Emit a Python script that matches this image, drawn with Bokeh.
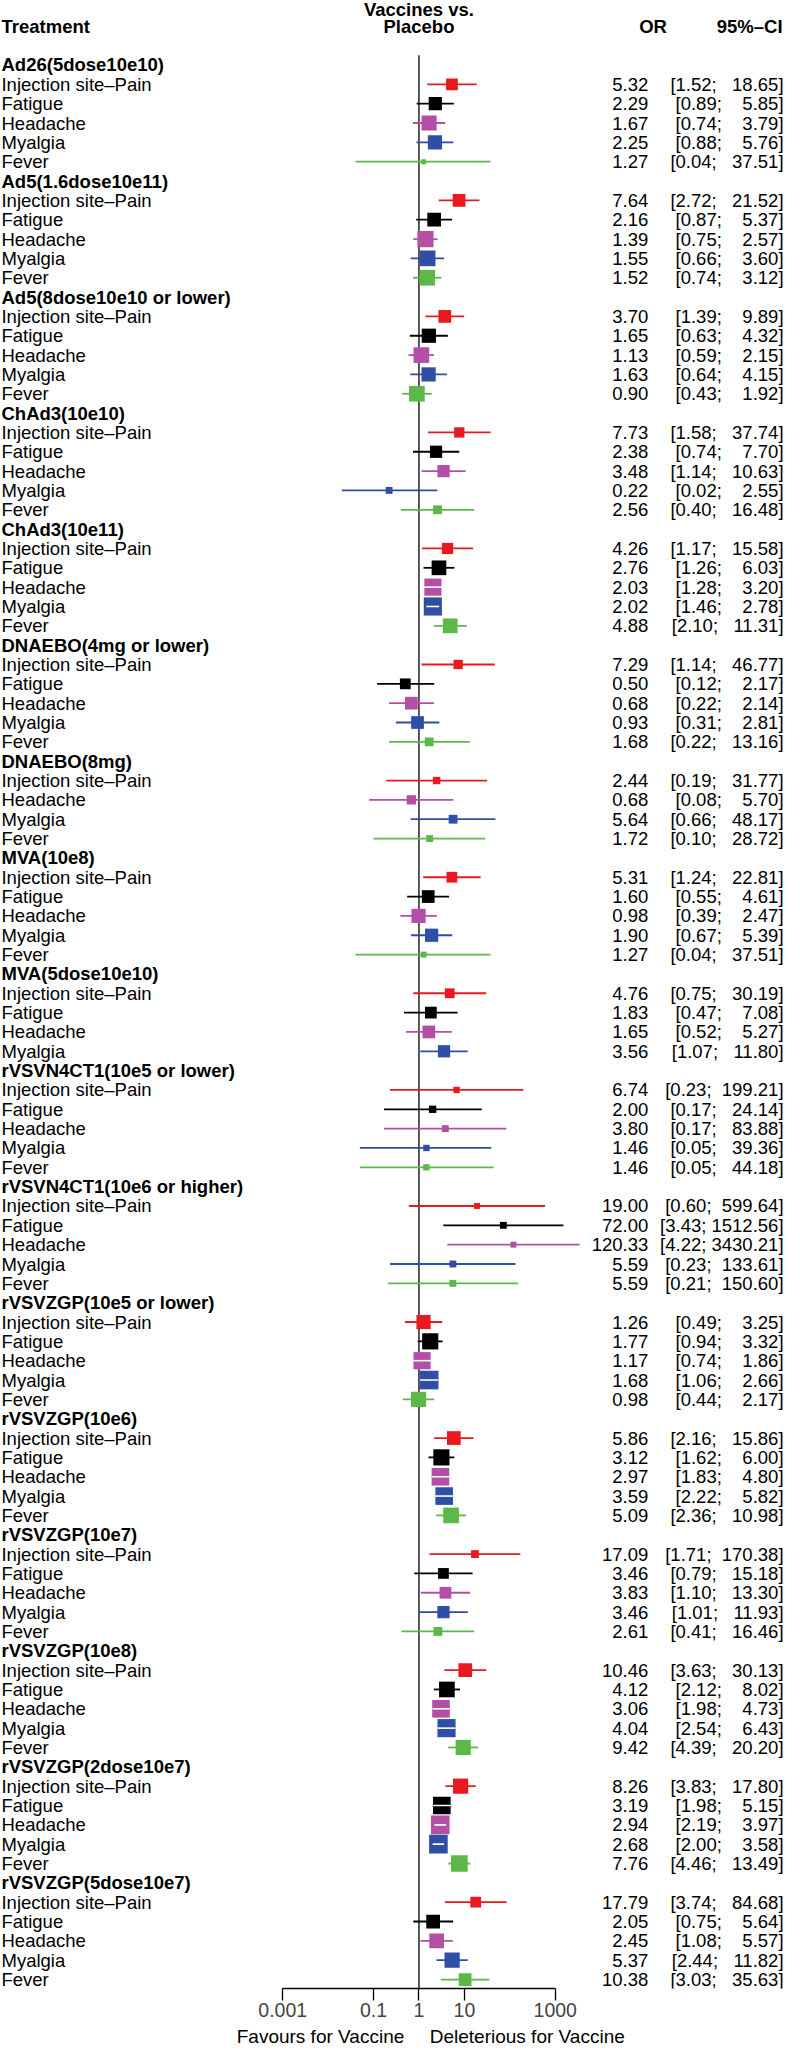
import math
from bokeh.plotting import figure
from bokeh.layouts import column
from bokeh.models import (ColumnDataSource, Range1d, LinearScale, FixedTicker,
                          CustomJSTickFormatter)
from bokeh.core.properties import value
from bokeh.embed import file_html
from bokeh.resources import INLINE

# ---------------- data ----------------
treatments = [
    "Ad26(5dose10e10)", "Ad5(1.6dose10e11)", "Ad5(8dose10e10 or lower)",
    "ChAd3(10e10)", "ChAd3(10e11)", "DNAEBO(4mg or lower)", "DNAEBO(8mg)",
    "MVA(10e8)", "MVA(5dose10e10)", "rVSVN4CT1(10e5 or lower)",
    "rVSVN4CT1(10e6 or higher)", "rVSVZGP(10e5 or lower)", "rVSVZGP(10e6)",
    "rVSVZGP(10e7)", "rVSVZGP(10e8)", "rVSVZGP(2dose10e7)", "rVSVZGP(5dose10e7)",
]
PAIN = "Injection site\u2013Pain"
ALL5 = [PAIN, "Fatigue", "Headache", "Myalgia", "Fever"]
outcomes_by_treatment = (
    [ALL5] * 6
    + [[PAIN, "Headache", "Myalgia", "Fever"], ALL5, [PAIN, "Fatigue", "Headache", "Myalgia"]]
    + [ALL5] * 8
)

or_est = [
    5.32, 2.29, 1.67, 2.25, 1.27,
    7.64, 2.16, 1.39, 1.55, 1.52,
    3.70, 1.65, 1.13, 1.63, 0.90,
    7.73, 2.38, 3.48, 0.22, 2.56,
    4.26, 2.76, 2.03, 2.02, 4.88,
    7.29, 0.50, 0.68, 0.93, 1.68,
    2.44, 0.68, 5.64, 1.72,
    5.31, 1.60, 0.98, 1.90, 1.27,
    4.76, 1.83, 1.65, 3.56,
    6.74, 2.00, 3.80, 1.46, 1.46,
    19.00, 72.00, 120.33, 5.59, 5.59,
    1.26, 1.77, 1.17, 1.68, 0.98,
    5.86, 3.12, 2.97, 3.59, 5.09,
    17.09, 3.46, 3.83, 3.46, 2.61,
    10.46, 4.12, 3.06, 4.04, 9.42,
    8.26, 3.19, 2.94, 2.68, 7.76,
    17.79, 2.05, 2.45, 5.37, 10.38,
]
ci_low = [
    1.52, 0.89, 0.74, 0.88, 0.04,
    2.72, 0.87, 0.75, 0.66, 0.74,
    1.39, 0.63, 0.59, 0.64, 0.43,
    1.58, 0.74, 1.14, 0.02, 0.40,
    1.17, 1.26, 1.28, 1.46, 2.10,
    1.14, 0.12, 0.22, 0.31, 0.22,
    0.19, 0.08, 0.66, 0.10,
    1.24, 0.55, 0.39, 0.67, 0.04,
    0.75, 0.47, 0.52, 1.07,
    0.23, 0.17, 0.17, 0.05, 0.05,
    0.60, 3.43, 4.22, 0.23, 0.21,
    0.49, 0.94, 0.74, 1.06, 0.44,
    2.16, 1.62, 1.83, 2.22, 2.36,
    1.71, 0.79, 1.10, 1.01, 0.41,
    3.63, 2.12, 1.98, 2.54, 4.39,
    3.83, 1.98, 2.19, 2.00, 4.46,
    3.74, 0.75, 1.08, 2.44, 3.03,
]
ci_high = [
    18.65, 5.85, 3.79, 5.76, 37.51,
    21.52, 5.37, 2.57, 3.60, 3.12,
    9.89, 4.32, 2.15, 4.15, 1.92,
    37.74, 7.70, 10.63, 2.55, 16.48,
    15.58, 6.03, 3.20, 2.78, 11.31,
    46.77, 2.17, 2.14, 2.81, 13.16,
    31.77, 5.70, 48.17, 28.72,
    22.81, 4.61, 2.47, 5.39, 37.51,
    30.19, 7.08, 5.27, 11.80,
    199.21, 24.14, 83.88, 39.36, 44.18,
    599.64, 1512.56, 3430.21, 133.61, 150.60,
    3.25, 3.32, 1.86, 2.66, 2.17,
    15.86, 6.00, 4.80, 5.82, 10.98,
    170.38, 15.18, 13.30, 11.93, 16.46,
    30.13, 8.02, 4.73, 6.43, 20.20,
    17.80, 5.15, 3.97, 3.58, 13.49,
    84.68, 5.64, 5.57, 11.82, 35.63,
]
# relative weight, shown as the side of each square
box_weight = [
    12, 13.5, 15.5, 14.5, 5,
    13, 14, 16.5, 16, 16,
    13, 14.5, 16, 14.5, 16,
    10.5, 12.5, 12.5, 7, 9,
    11.5, 15, 17.5, 18.5, 15,
    9.5, 11, 13, 13, 9,
    7.5, 9.5, 9, 7,
    11, 13, 14.5, 13.5, 6,
    10, 12, 13, 12.5,
    6.5, 7.5, 7, 6.5, 6.5,
    6, 7, 6, 7, 7,
    14.5, 16.5, 17.5, 19, 15.5,
    14, 16.5, 18, 18, 16,
    8, 11, 12, 12.5, 9,
    14, 16, 18, 18.5, 15.5,
    15.5, 18, 19, 19, 17,
    11, 14, 15, 15.5, 13,
]
tick_values = [0.001, 0.1, 1, 10, 1000]
tick_labels = ["0.001", "0.1", "1", "10", "1000"]
x_side_labels = ["Favours for Vaccine", "Deleterious for Vaccine"]

colours = {PAIN: "#E8191F", "Fatigue": "#000000", "Headache": "#B44FA6",
           "Myalgia": "#2F4EA6", "Fever": "#5DB84A"}

# ---------------- layout (reference pixel space) ----------------
REF_W, REF_H = 800, 2063
PAGE_W, PAGE_H = 784, 2047
SX, SY = PAGE_W / REF_W, PAGE_H / REF_H
X_ONE = 427.0        # x of OR = 1
DEC = 46.35          # px per decade
ROW0, ROW_H = 65.0, 19.49
MAIN_H = 2025
BORDER_B = 37
CAP_H = PAGE_H - MAIN_H
FONT = "Liberation Sans"
FS = "18.5px"
FS_AX = "19.5px"
NB = "\u00a0"

frame_ref_h = (MAIN_H - BORDER_B) / SY
y_bottom = (frame_ref_h - ROW0) / ROW_H
y_top = (0 - ROW0) / ROW_H

def px(v):
    return DEC * math.log10(v)

def yrow(y_ref):
    return (y_ref - ROW0) / ROW_H

hdr = dict(x=[], y=[], t=[])
lab = dict(x=[], y=[], t=[])
it = dict(y=[], est=[], lo=[], hi=[], col=[], size=[], or_t=[], ci_t=[], or_x=[], ci_x=[])
wh = dict(y=[], lo=[], hi=[])

row = 0
k = 0
for t, outs in zip(treatments, outcomes_by_treatment):
    hdr["x"].append(1); hdr["y"].append(row); hdr["t"].append(t)
    row += 1
    for o in outs:
        e, lo, hi, w = or_est[k], ci_low[k], ci_high[k], box_weight[k]
        lab["x"].append(1); lab["y"].append(row); lab["t"].append(o)
        hs = f"{hi:.2f}"
        it["y"].append(row); it["est"].append(e); it["lo"].append(lo); it["hi"].append(hi)
        it["col"].append(colours[o]); it["size"].append(w * SX)
        it["or_t"].append(f"{e:.2f}"); it["or_x"].append(661)
        it["ci_t"].append(f"[{lo:.2f};" + NB * (1 + 7 - len(hs)) + hs + "]")
        it["ci_x"].append(799)
        half = w / 2.0
        if px(lo) >= px(e) - half - 1.5 and px(hi) <= px(e) + half + 1.5:
            wh["y"].append(row); wh["lo"].append(lo); wh["hi"].append(hi)
        row += 1
        k += 1

p = figure(width=PAGE_W, height=MAIN_H, x_axis_type="log",
           x_range=Range1d(10 ** ((0 - X_ONE) / DEC), 10 ** ((REF_W - X_ONE) / DEC)),
           y_range=Range1d(y_bottom, y_top),
           y_axis_location=None, toolbar_location=None, output_backend="svg",
           min_border_left=0, min_border_right=0, min_border_top=0,
           min_border_bottom=BORDER_B)
p.outline_line_color = None
p.xgrid.visible = False
p.ygrid.visible = False
p.background_fill_color = "white"
p.border_fill_color = "white"
p.extra_x_ranges = {"px": Range1d(0, REF_W)}
p.extra_x_scales = {"px": LinearScale()}

# reference line at OR = 1
p.segment(x0=[1], y0=[-0.5], x1=[1], y1=[y_bottom + 1], line_color="black", line_width=1.3)

src = ColumnDataSource(it)
p.segment(x0="lo", y0="y", x1="hi", y1="y", source=src, line_color="col", line_width=1.8)
p.scatter(x="est", y="y", size="size", marker="square", source=src,
          fill_color="col", line_color=None)
p.segment(x0="lo", y0="y", x1="hi", y1="y", source=ColumnDataSource(wh),
          line_color="white", line_width=1.6)

common = dict(x_range_name="px", text_font=value(FONT), text_font_size=value(FS),
              text_baseline="middle", text_color="black")
p.text(x="x", y="y", text="t", source=ColumnDataSource(hdr), text_align="left",
       text_font_style="bold", **common)
p.text(x="x", y="y", text="t", source=ColumnDataSource(lab), text_align="left", **common)
p.text(x="or_x", y="y", text="or_t", source=src, text_align="right", **common)
p.text(x="ci_x", y="y", text="ci_t", source=src, text_align="right", **common)

# column headers
h1 = yrow(9)
h2 = yrow(26)
heads = dict(x=[1, X_ONE, X_ONE, 680, 798],
             y=[h2, h1, h2, h2, h2],
             t=["Treatment", "Vaccines vs.", "Placebo", "OR", "95%\u2013CI"],
             a=["left", "center", "center", "right", "right"])
p.text(x="x", y="y", text="t", text_align="a", source=ColumnDataSource(heads),
       text_font_style="bold", **common)

ax = p.xaxis[0]
ax.bounds = (tick_values[0], tick_values[-1])
ax.ticker = FixedTicker(ticks=tick_values)
ax.formatter = CustomJSTickFormatter(
    args=dict(vals=tick_values, labs=tick_labels),
    code="const i = vals.findIndex(v => Math.abs(Math.log10(v) - Math.log10(tick)) < 1e-6); return i >= 0 ? labs[i] : '';")
ax.axis_line_width = 1.3
ax.major_tick_line_width = 1.3
ax.major_tick_out = 12
ax.major_tick_in = 0
ax.minor_tick_line_color = None
ax.major_label_standoff = 2
ax.major_label_text_font = FONT
ax.major_label_text_font_size = FS_AX

# captions strip under the axis
cap = figure(width=PAGE_W, height=CAP_H, x_range=Range1d(0, REF_W), y_range=Range1d(0, 1),
             x_axis_location=None, y_axis_location=None, toolbar_location=None,
             output_backend="svg", min_border=0)
cap.outline_line_color = None
cap.xgrid.visible = False
cap.ygrid.visible = False
cap.text(x=[412, 438], y=[0.5, 0.5], text=x_side_labels, text_align=["right", "left"],
         text_baseline="middle", text_font=value(FONT), text_font_size=value("19px"),
         text_color="black")

open("out.html", "w").write(file_html(column(p, cap, spacing=0), INLINE))
